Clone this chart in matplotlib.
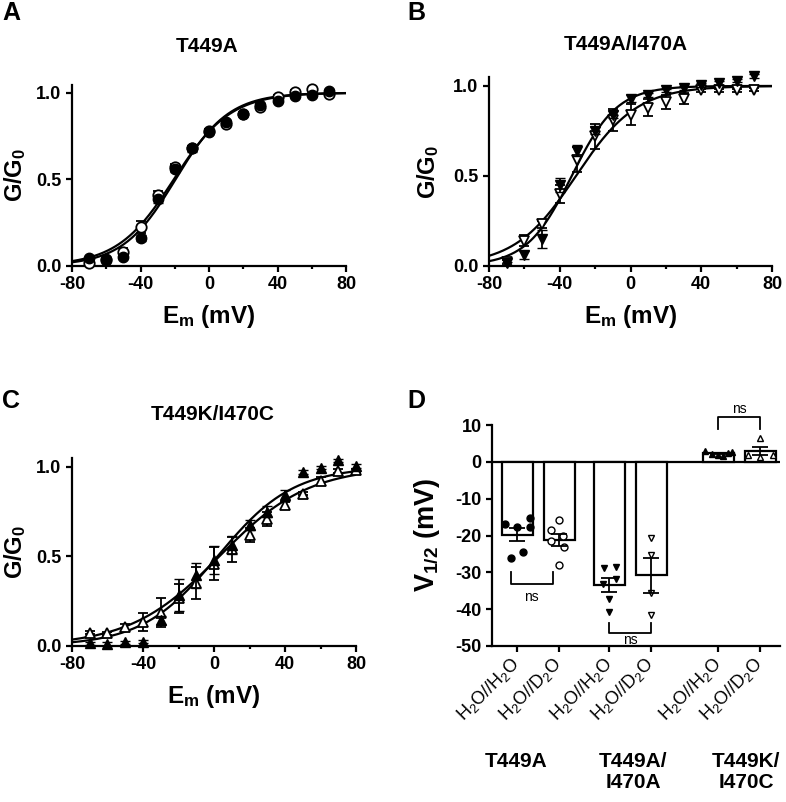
import numpy as np
import matplotlib
matplotlib.use("Agg")
import matplotlib.pyplot as plt
from matplotlib.ticker import MultipleLocator

plt.rcParams['font.family'] = ['Liberation Sans', 'DejaVu Sans']
plt.rcParams['mathtext.fontset'] = 'custom'
plt.rcParams['mathtext.rm'] = 'Liberation Sans'
plt.rcParams['mathtext.bf'] = 'Liberation Sans:bold'
plt.rcParams['mathtext.it'] = 'Liberation Sans:italic'
plt.rcParams['axes.unicode_minus'] = False

# ---------------- data ----------------
volts_ab = [-70, -60, -50, -40, -30, -20, -10, 0, 10, 20, 30, 40, 50, 60, 70]
volts_c = [-70, -60, -50, -40, -30, -20, -10, 0, 10, 20, 30, 40, 50, 60, 70, 80]

# A: T449A  (filled = H2O, open = D2O)
a_h2o = [0.042, 0.04, 0.05, 0.16, 0.385, 0.56, 0.68, 0.775, 0.83, 0.88, 0.93, 0.955, 0.98, 0.985, 1.01]
a_h2o_err = [0.01, 0.01, 0.01, 0.02, 0.02, 0.02, 0.02, 0.01, 0.01, 0.01, 0.01, 0.01, 0.01, 0.01, 0.01]
a_d2o = [0.015, 0.035, 0.08, 0.225, 0.41, 0.57, 0.68, 0.78, 0.82, 0.88, 0.92, 0.975, 1.005, 1.02, 0.995]
a_d2o_err = [0.01, 0.01, 0.02, 0.035, 0.02, 0.02, 0.01, 0.01, 0.01, 0.01, 0.01, 0.01, 0.01, 0.01, 0.01]
a_fits = [(-19.5, 15.5), (-20.5, 16.5)]   # (V1/2, slope) Boltzmann fits

# B: T449A/I470A
b_h2o = [0.013, 0.06, 0.15, 0.45, 0.64, 0.75, 0.84, 0.93, 0.95, 0.975, 0.99, 1.005, 1.015, 1.03, 1.055]
b_h2o_err = [0.01, 0.02, 0.05, 0.04, 0.03, 0.02, 0.02, 0.02, 0.01, 0.01, 0.01, 0.01, 0.01, 0.01, 0.01]
b_d2o = [0.02, 0.14, 0.23, 0.40, 0.59, 0.72, 0.81, 0.84, 0.88, 0.91, 0.93, 0.975, 0.975, 0.975, 0.98]
b_d2o_err = [0.01, 0.03, 0.02, 0.05, 0.07, 0.07, 0.06, 0.06, 0.05, 0.04, 0.03, 0.01, 0.01, 0.01, 0.01]
b_fits = [(-33.2, 12.8), (-30.8, 17.3)]

# C: T449K/I470C
c_h2o = [0.015, 0.01, 0.02, 0.025, 0.145, 0.285, 0.395, 0.48, 0.565, 0.675, 0.75, 0.84, 0.97, 0.995, 1.035, 1.005]
c_h2o_err = [0.01, 0.01, 0.01, 0.01, 0.02, 0.09, 0.07, 0.08, 0.05, 0.03, 0.03, 0.03, 0.01, 0.01, 0.01, 0.01]
c_d2o = [0.075, 0.07, 0.105, 0.135, 0.185, 0.265, 0.35, 0.46, 0.54, 0.62, 0.71, 0.785, 0.85, 0.92, 0.975, 0.98]
c_d2o_err = [0.01, 0.01, 0.02, 0.05, 0.08, 0.08, 0.09, 0.09, 0.07, 0.04, 0.04, 0.02, 0.01, 0.02, 0.01, 0.01]
c_fits = [(2.0, 21.3), (3.0, 25.2)]

# D: V1/2 per cell
d_labels = [r'H$_2$O//H$_2$O', r'H$_2$O//D$_2$O'] * 3
d_groups = ['T449A', 'T449A/\nI470A', 'T449K/\nI470C']
d_values = [
    [-16.9, -17.8, -15.3, -17.8, -26.1, -24.6],
    [-15.9, -18.5, -20.0, -21.6, -23.0, -28.0],
    [-28.8, -28.6, -33.2, -31.7, -37.3, -40.9],
    [-20.6, -25.3, -35.7, -41.6],
    [3.0, 2.2, 1.9, 1.7, 2.5, 2.6],
    [6.4, 1.9, 1.4, 1.9],
]
d_jitter = [
    [-0.3, 0.0, 0.3, 0.3, -0.15, 0.14],
    [0.0, -0.19, 0.1, -0.2, 0.11, 0.0],
    [-0.14, 0.16, -0.16, 0.16, 0.0, 0.0],
    [0.0, 0.0, 0.0, 0.0],
    [-0.33, -0.15, 0.0, 0.1, 0.22, 0.33],
    [0.0, -0.3, 0.0, 0.3],
]
d_markers = ['o', 'o', 'v', 'v', '^', '^']
d_filled = [True, False, True, False, True, False]
d_pos = [0, 1, 2.2, 3.2, 4.8, 5.8]


def boltz(v, vh, k):
    return 1.0 / (1.0 + np.exp((vh - v) / k))


fig = plt.figure(figsize=(7.86, 8.02), dpi=100)
W, H = 786.0, 802.0


def px_axes(l, r, b, t):
    return fig.add_axes([l / W, 1 - b / H, (r - l) / W, (b - t) / H])


def style(ax):
    for s in ['top', 'right']:
        ax.spines[s].set_visible(False)
    for s in ['left', 'bottom']:
        ax.spines[s].set_linewidth(1.6)
    ax.tick_params(which='major', length=4.5, width=1.6, labelsize=13, pad=3)
    ax.tick_params(which='minor', length=2.5, width=1.6)
    for lab in ax.get_xticklabels() + ax.get_yticklabels():
        lab.set_fontweight('bold')


def gv_panel(ax, volts, h2o, h2o_err, d2o, d2o_err, fits, marker, ytop, ylab_x):
    vv = np.linspace(-80, 80, 300)
    for vh, k in fits:
        ax.plot(vv, boltz(vv, vh, k), color='k', lw=1.6, zorder=2)
    ax.errorbar(volts, d2o, yerr=d2o_err, fmt=marker, ms=7.5, mfc='white', mec='k', mew=1.3,
                ecolor='k', elinewidth=1.3, capsize=3.5, capthick=1.3, zorder=3, clip_on=False)
    ax.errorbar(volts, h2o, yerr=h2o_err, fmt=marker, ms=7.5, mfc='k', mec='k', mew=1.0,
                ecolor='k', elinewidth=1.3, capsize=3.5, capthick=1.3, zorder=4, clip_on=False)
    ax.set_xlim(-80, 80)
    ax.set_ylim(0, ytop)
    ax.set_xticks([-80, -40, 0, 40, 80])
    ax.xaxis.set_minor_locator(MultipleLocator(20))
    ax.set_yticks([0, 0.5, 1.0])
    ax.set_yticklabels(['0.0', '0.5', '1.0'])
    style(ax)
    ax.set_ylabel(r'G/G$_\mathbf{0}$', fontsize=17, fontweight='bold')
    ax.yaxis.set_label_coords(ylab_x, 0.5)
    ax.set_xlabel(r'E$_\mathbf{m}$ (mV)', fontsize=17.5, fontweight='bold', labelpad=7)


axA = px_axes(72, 346, 265.7, 85)
gv_panel(axA, volts_ab, a_h2o, a_h2o_err, a_d2o, a_d2o_err, a_fits, 'o', 1.045, -0.16)
axB = px_axes(489, 772, 265.7, 77.3)
gv_panel(axB, volts_ab, b_h2o, b_h2o_err, b_d2o, b_d2o_err, b_fits, 'v', 1.048, -0.17)
axC = px_axes(72, 356, 646, 458.3)
gv_panel(axC, volts_c, c_h2o, c_h2o_err, c_d2o, c_d2o_err, c_fits, '^', 1.047, -0.155)

fig.text(207 / W, 1 - 46 / H, 'T449A', ha='center', va='center', fontsize=15, fontweight='bold')
fig.text(626 / W, 1 - 44 / H, 'T449A/I470A', ha='center', va='center', fontsize=15, fontweight='bold')
fig.text(213 / W, 1 - 415 / H, 'T449K/I470C', ha='center', va='center', fontsize=15, fontweight='bold')

# ---------------- panel D ----------------
axD = px_axes(492, 780, 646, 425)
axD.axhline(0, color='k', lw=1.6, zorder=1)
for i, vals in enumerate(d_values):
    vals = np.array(vals)
    m = vals.mean()
    sem = vals.std(ddof=1) / np.sqrt(len(vals))
    axD.bar(d_pos[i], m, width=0.74, color='white', edgecolor='k', lw=1.6, zorder=2)
    xs = d_pos[i] + np.array(d_jitter[i])
    axD.plot(xs, vals, d_markers[i], ms=5, mfc='k' if d_filled[i] else 'white',
             mec='k', mew=1.0, zorder=3, clip_on=False)
    axD.errorbar(d_pos[i], m, yerr=sem, fmt='none', ecolor='k', elinewidth=1.3,
                 capsize=5.5, capthick=1.3, zorder=4)

# significance brackets: (x1, x2, line y, arm y, text y)
brackets = [(-0.15, 0.85, -33.2, -30.0, -36.7), (2.2, 3.2, -46.6, -43.8, -48.3), (4.8, 5.8, 12.3, 9.0, 14.4)]
for x1, x2, yl, ya, yt in brackets:
    axD.plot([x1, x1, x2, x2], [ya, yl, yl, ya], color='k', lw=1.3, clip_on=False, zorder=5)
    axD.text((x1 + x2) / 2, yt, 'ns', ha='center', va='center', fontsize=10)

axD.set_xlim(-0.6, 6.27)
axD.set_ylim(-50, 10)
axD.set_yticks([10, 0, -10, -20, -30, -40, -50])
axD.set_xticks(d_pos)
axD.set_xticklabels(d_labels, rotation=45, ha='right', va='center', rotation_mode='anchor', fontsize=12)
style(axD)
for lab in axD.get_xticklabels():
    lab.set_fontweight('normal')
axD.tick_params(axis='x', pad=6)
axD.set_ylabel(r'V$_\mathbf{1/2}$ (mV)', fontsize=19.5, fontweight='bold')
axD.yaxis.set_label_coords(-0.174, 0.5)

group_x = [516, 633, 746]
for gx, g in zip(group_x, d_groups):
    fig.text(gx / W, 1 - 752 / H, g, ha='center', va='top', fontsize=15, fontweight='bold', linespacing=1.1)

# panel letters
for x, y, s in [(2, 13, 'A'), (407, 13, 'B'), (2, 401, 'C'), (407, 401, 'D')]:
    fig.text(x / W, 1 - y / H, s, ha='left', va='center', fontsize=18, fontweight='bold')

fig.savefig('out.png', dpi=100)
